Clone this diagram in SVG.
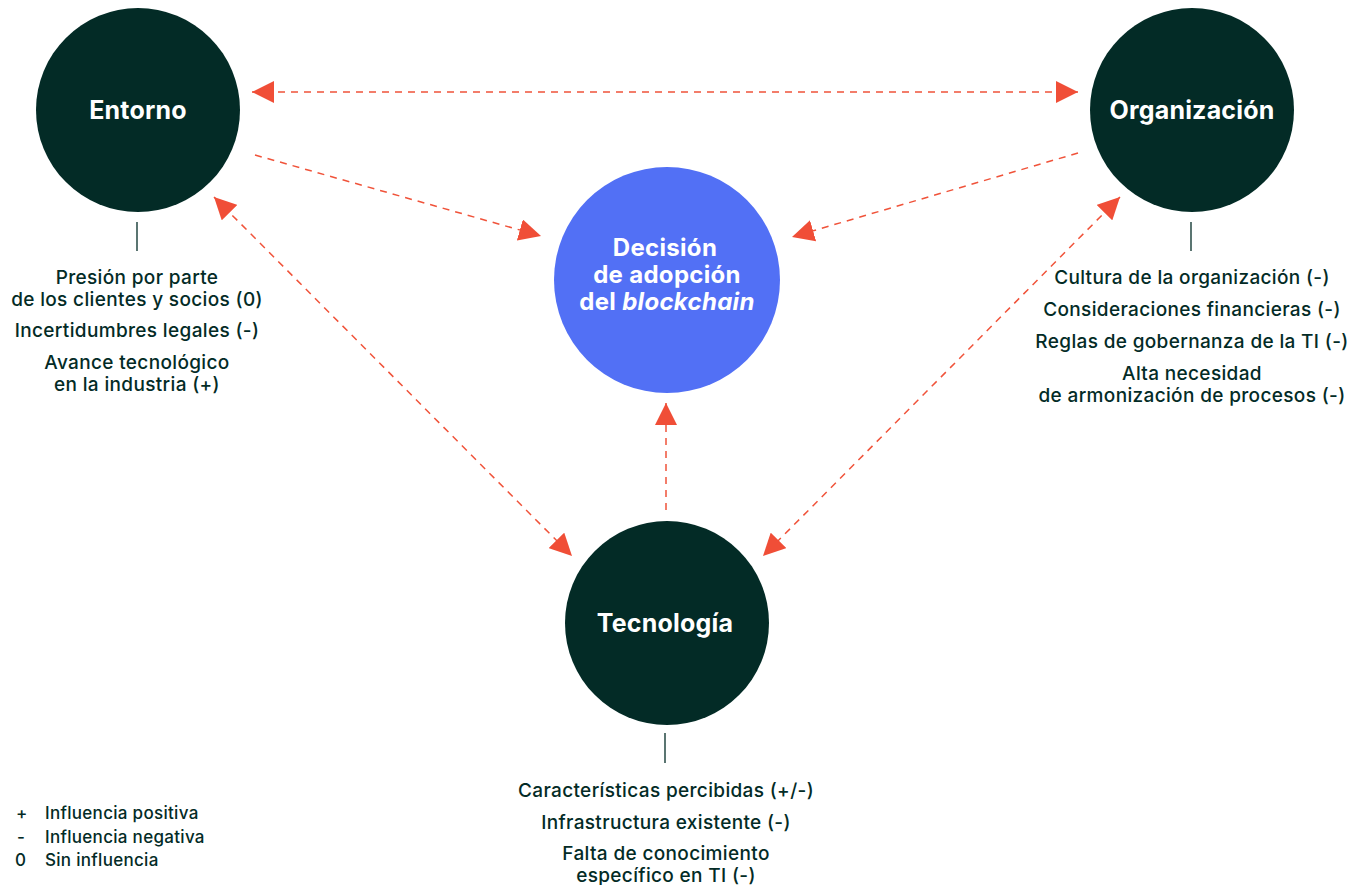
<svg xmlns="http://www.w3.org/2000/svg" width="1363" height="885" viewBox="0 0 1363 885">
  <style>
    .node { fill: #032b26; }
    .hub { fill: #5270f5; }
    .title { font-family: Inter, "Liberation Sans", sans-serif; font-weight: 700; font-size: 25px; letter-spacing: 0.2px; fill: #ffffff; text-anchor: middle; }
    .hubtitle { font-family: Inter, "Liberation Sans", sans-serif; font-weight: 700; font-size: 24px; letter-spacing: 0.3px; fill: #ffffff; text-anchor: middle; }
    .item { font-family: Inter, "Liberation Sans", sans-serif; font-weight: 500; font-size: 19px; letter-spacing: 0.35px; fill: #032b26; text-anchor: middle; }
    .legend { font-family: Inter, "Liberation Sans", sans-serif; font-weight: 500; font-size: 17px; letter-spacing: 0.3px; fill: #032b26; }
    .tick { stroke: #032b26; stroke-width: 1.3; }
    .link { stroke: #f0533a; stroke-width: 1.5; stroke-dasharray: 7 6; fill: none; }
  </style>
  <defs>
    <marker id="head" viewBox="0 0 10 10" refX="10" refY="5" markerWidth="22" markerHeight="22" markerUnits="userSpaceOnUse" orient="auto-start-reverse">
      <path d="M0,0 L10,5 L0,10 Z" fill="#f04e37"/>
    </marker>
  </defs>

  <rect width="1363" height="885" fill="#ffffff"/>

  <!-- connectors -->
  <g id="connectors">
    <line class="link" x1="252" y1="92" x2="1078" y2="92" marker-start="url(#head)" marker-end="url(#head)"/>
    <line class="link" x1="255" y1="155" x2="541" y2="236" marker-end="url(#head)"/>
    <line class="link" x1="1078" y1="153" x2="792" y2="237" marker-end="url(#head)"/>
    <line class="link" x1="214" y1="197" x2="572" y2="556" marker-start="url(#head)" marker-end="url(#head)"/>
    <line class="link" x1="1120" y1="197" x2="763" y2="556" marker-start="url(#head)" marker-end="url(#head)"/>
    <line class="link" x1="666" y1="510" x2="666" y2="403" marker-end="url(#head)"/>
  </g>

  <!-- Entorno -->
  <g id="entorno">
    <circle class="node" cx="138" cy="110" r="102"/>
    <text class="title" x="138" y="119">Entorno</text>
    <line class="tick" x1="137" y1="222" x2="137" y2="251"/>
    <text class="item" x="137" y="284">Presión por parte</text>
    <text class="item" x="137" y="306">de los clientes y socios (0)</text>
    <text class="item" x="137" y="337">Incertidumbres legales (-)</text>
    <text class="item" x="137" y="369">Avance tecnológico</text>
    <text class="item" x="137" y="391">en la industria (+)</text>
  </g>

  <!-- Organización -->
  <g id="organizacion">
    <circle class="node" cx="1192" cy="110" r="102"/>
    <text class="title" x="1192" y="119">Organización</text>
    <line class="tick" x1="1191" y1="222" x2="1191" y2="251"/>
    <text class="item" x="1192" y="284">Cultura de la organización (-)</text>
    <text class="item" x="1192" y="316">Consideraciones financieras (-)</text>
    <text class="item" x="1192" y="348">Reglas de gobernanza de la TI (-)</text>
    <text class="item" x="1192" y="380">Alta necesidad</text>
    <text class="item" x="1192" y="402">de armonización de procesos (-)</text>
  </g>

  <!-- Decisión -->
  <g id="decision">
    <circle class="hub" cx="667" cy="280" r="113"/>
    <text class="hubtitle" x="665" y="256">Decisión</text>
    <text class="hubtitle" x="667" y="283">de adopción</text>
    <text class="hubtitle" x="667" y="310">del <tspan font-style="italic">blockchain</tspan></text>
  </g>

  <!-- Tecnología -->
  <g id="tecnologia">
    <circle class="node" cx="667" cy="623" r="102"/>
    <text class="title" x="665" y="632">Tecnología</text>
    <line class="tick" x1="665" y1="733" x2="665" y2="763"/>
    <text class="item" x="666" y="797">Características percibidas (+/-)</text>
    <text class="item" x="666" y="829">Infrastructura existente (-)</text>
    <text class="item" x="666" y="860">Falta de conocimiento</text>
    <text class="item" x="666" y="882">específico en TI (-)</text>
  </g>

  <!-- legend -->
  <g id="legend">
    <text class="legend" x="16" y="819">+</text>
    <text class="legend" x="45" y="819">Influencia positiva</text>
    <text class="legend" x="17" y="843">-</text>
    <text class="legend" x="45" y="843">Influencia negativa</text>
    <text class="legend" x="15" y="866">0</text>
    <text class="legend" x="45" y="866">Sin influencia</text>
  </g>
</svg>
